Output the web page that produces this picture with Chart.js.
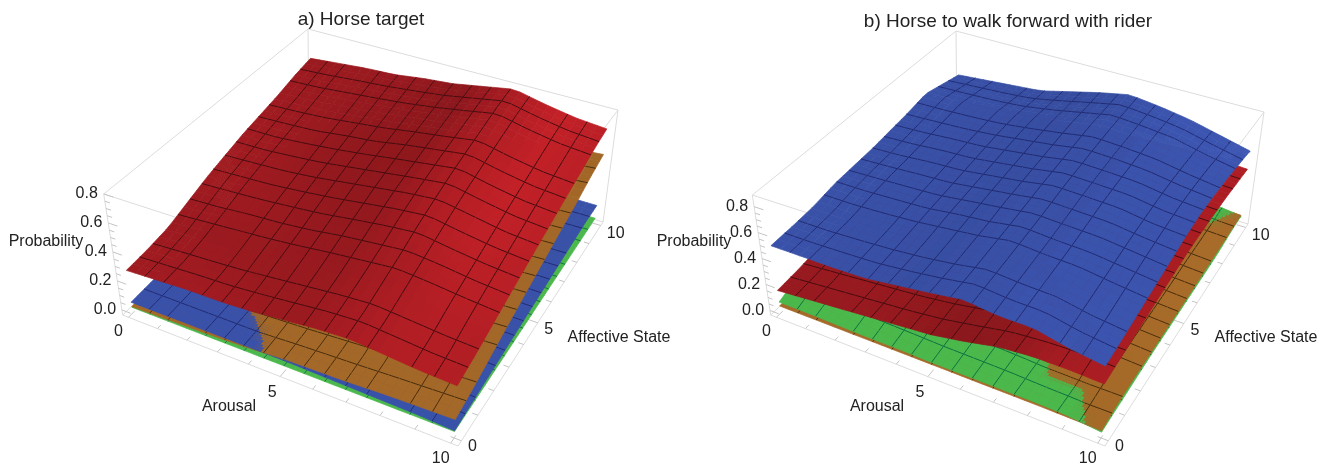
<!DOCTYPE html>
<html>
<head>
<meta charset="utf-8">
<title>Horse surfaces</title>
<style>
html, body { margin: 0; padding: 0; background: #fff; overflow: hidden; width: 1330px; height: 467px; }
canvas { position: absolute; top: 0; }
</style>
<script src="https://cdn.jsdelivr.net/npm/chart.js@4"></script>
</head>
<body>
<canvas id="panelA" width="722" height="467" style="left:0"></canvas>
<canvas id="panelB" width="736" height="467" style="left:640px"></canvas>
<script>
// z values: rows are Affective State 0..10, columns Arousal 0..10
const aRed = [
  [.26,.27,.28,.28,.29,.31,.33,.34,.32,.30,.29],
  [.27,.28,.29,.30,.32,.34,.36,.37,.35,.33,.32],
  [.29,.31,.32,.34,.36,.38,.40,.42,.40,.38,.36],
  [.34,.35,.37,.38,.40,.43,.45,.47,.45,.42,.40],
  [.39,.40,.41,.43,.45,.48,.51,.53,.49,.46,.44],
  [.43,.44,.45,.47,.50,.53,.56,.58,.54,.50,.48],
  [.47,.47,.49,.51,.54,.57,.60,.63,.58,.54,.52],
  [.50,.51,.52,.55,.57,.61,.64,.67,.62,.58,.56],
  [.53,.54,.56,.58,.61,.64,.67,.71,.66,.62,.60],
  [.57,.58,.60,.62,.64,.67,.71,.75,.70,.66,.64],
  [.60,.62,.64,.65,.68,.70,.74,.78,.73,.69,.67]
];
const aBrown = [
  [.01,.015,.02,.025,.035,.05,.055,.06,.07,.075,.08],
  [.015,.02,.03,.04,.05,.06,.07,.08,.09,.10,.11],
  [.02,.03,.04,.06,.07,.08,.10,.12,.13,.14,.15],
  [.03,.04,.06,.08,.10,.11,.13,.16,.17,.18,.19],
  [.04,.06,.08,.10,.12,.14,.17,.20,.21,.22,.23],
  [.05,.07,.10,.12,.15,.17,.20,.24,.25,.26,.27],
  [.06,.09,.12,.14,.17,.20,.24,.27,.29,.30,.31],
  [.07,.10,.13,.16,.19,.23,.27,.31,.33,.34,.35],
  [.08,.11,.15,.18,.22,.26,.30,.34,.36,.38,.39],
  [.09,.12,.16,.20,.25,.29,.33,.37,.40,.42,.44],
  [.10,.14,.18,.23,.28,.32,.36,.40,.43,.46,.48]
];
const aBlue = [
  [.04,.04,.04,.04,.04,.04,.035,.03,.025,.02,.01],
  [.045,.045,.045,.045,.045,.045,.04,.04,.035,.03,.02],
  [.05,.05,.05,.05,.05,.05,.05,.05,.045,.04,.03],
  [.05,.05,.05,.05,.055,.055,.055,.055,.05,.045,.04],
  [.05,.05,.05,.055,.06,.06,.06,.06,.055,.05,.05],
  [.05,.05,.055,.06,.065,.065,.065,.065,.06,.06,.06],
  [.05,.055,.06,.065,.07,.07,.07,.07,.07,.07,.07],
  [.05,.055,.06,.065,.07,.075,.075,.075,.075,.075,.08],
  [.05,.055,.06,.065,.07,.08,.08,.08,.08,.085,.09],
  [.05,.055,.06,.065,.07,.08,.085,.085,.09,.095,.10],
  [.05,.055,.06,.065,.07,.08,.09,.09,.095,.10,.10]
];
const aGreen = [
  [.005,.005,.005,.005,.005,.005,.005,.005,.005,.005,.005],
  [.005,.005,.005,.005,.005,.005,.005,.005,.005,.005,.005],
  [.005,.005,.005,.005,.005,.005,.005,.005,.005,.005,.005],
  [.005,.005,.005,.005,.005,.005,.005,.005,.005,.005,.005],
  [.005,.005,.005,.005,.005,.005,.005,.005,.005,.005,.005],
  [.005,.005,.005,.005,.005,.005,.005,.005,.005,.005,.005],
  [.005,.005,.005,.005,.005,.005,.005,.005,.005,.005,.005],
  [.005,.005,.005,.005,.005,.005,.005,.005,.005,.005,.005],
  [.005,.005,.005,.005,.005,.005,.005,.005,.005,.005,.005],
  [.005,.005,.005,.005,.005,.005,.005,.005,.005,.005,.005],
  [.005,.005,.005,.005,.005,.005,.005,.005,.005,.005,.005]
];
const bBlue = [
  [.485,.485,.485,.49,.52,.55,.585,.555,.555,.50,.465],
  [.49,.49,.50,.51,.53,.56,.60,.58,.57,.52,.49],
  [.50,.50,.51,.53,.55,.58,.62,.60,.59,.55,.52],
  [.53,.53,.54,.55,.58,.60,.64,.62,.61,.58,.55],
  [.54,.55,.56,.57,.60,.63,.66,.65,.64,.61,.58],
  [.55,.56,.58,.59,.62,.65,.69,.68,.67,.63,.61],
  [.57,.58,.60,.61,.64,.67,.71,.70,.69,.65,.63],
  [.59,.60,.61,.63,.66,.69,.73,.72,.70,.66,.63],
  [.62,.62,.63,.64,.67,.71,.75,.73,.71,.66,.62],
  [.58,.59,.60,.62,.66,.71,.76,.74,.71,.65,.60],
  [.54,.56,.58,.60,.66,.72,.77,.74,.70,.64,.58]
];
const bRed = [
  [.14,.16,.18,.20,.22,.24,.28,.33,.35,.35,.34],
  [.15,.17,.19,.21,.23,.26,.30,.34,.36,.37,.36],
  [.17,.19,.21,.23,.25,.28,.32,.36,.38,.39,.38],
  [.19,.21,.23,.25,.28,.31,.34,.38,.40,.41,.40],
  [.21,.23,.25,.27,.30,.33,.36,.40,.42,.43,.42],
  [.23,.25,.27,.30,.33,.36,.39,.42,.44,.45,.44],
  [.25,.27,.29,.32,.35,.38,.41,.43,.45,.46,.45],
  [.27,.29,.31,.34,.37,.40,.42,.44,.46,.46,.45],
  [.29,.31,.33,.35,.38,.41,.43,.45,.46,.46,.45],
  [.30,.32,.34,.36,.39,.41,.43,.44,.45,.45,.44],
  [.31,.33,.35,.37,.39,.41,.43,.44,.45,.44,.43]
];
const bGreen = [
  [.05,.05,.045,.04,.04,.035,.035,.035,.035,.03,.005],
  [.11,.10,.09,.08,.07,.06,.055,.05,.035,.03,.01],
  [.13,.12,.11,.10,.09,.08,.07,.05,.04,.03,.015],
  [.14,.13,.12,.11,.10,.09,.08,.06,.05,.035,.02],
  [.15,.14,.13,.12,.11,.10,.09,.06,.06,.04,.02],
  [.16,.15,.14,.13,.12,.11,.10,.065,.07,.05,.02],
  [.16,.15,.14,.13,.12,.11,.10,.065,.07,.05,.02],
  [.16,.15,.14,.13,.12,.11,.10,.065,.07,.05,.02],
  [.16,.15,.14,.13,.12,.11,.10,.065,.07,.055,.02],
  [.16,.15,.14,.13,.12,.11,.10,.09,.09,.065,.035],
  [.16,.15,.14,.13,.12,.11,.10,.09,.09,.075,.045]
];
const bBrown = [
  [.02,.02,.02,.02,.02,.02,.02,.02,.02,.018,.015],
  [.03,.03,.03,.03,.03,.03,.03,.03,.035,.03,.035],
  [.03,.03,.03,.035,.04,.04,.04,.05,.05,.05,.04],
  [.03,.03,.035,.04,.045,.05,.05,.06,.06,.055,.04],
  [.03,.03,.035,.04,.05,.05,.06,.065,.065,.055,.04],
  [.03,.03,.035,.04,.05,.05,.06,.07,.07,.055,.04],
  [.03,.03,.035,.04,.05,.05,.06,.07,.075,.055,.04],
  [.03,.03,.035,.04,.05,.05,.06,.07,.08,.06,.045],
  [.03,.03,.035,.04,.05,.05,.06,.07,.08,.06,.045],
  [.03,.03,.035,.04,.05,.05,.06,.07,.08,.06,.05],
  [.03,.03,.035,.04,.05,.05,.06,.07,.08,.06,.05]
];

const meshValues = [0.625, 1.25, 2.5, 3.125, 3.75, 4.375, 5, 5.625, 6.25, 6.875, 7.5, 8.75, 9.375];
const axisTicks = [0, 5, 10];
const probTicks = [0, 0.2, 0.4, 0.6, 0.8];

// surface looks
const looks = {
  red:   { rgb: [167, 28, 34],  mesh: '#470b0f', shade: 4.5 },
  blue:  { rgb: [57, 81, 168],  mesh: '#212b74', shade: 1 },
  green: { rgb: [75, 184, 76],  mesh: '#0c7340', shade: 0 },
  brown: { rgb: [165, 105, 40], mesh: '#4a2e0c', shade: 1 }
};

const panels = [
  {
    canvas: 'panelA', title: 'a) Horse target', left: 0, width: 722, titleTop: 8,
    zFloor: -0.035, zTop: 0.8,
    floor: [[122.7, 315], [458, 446], [603, 222], [309, 134]],
    top: [[103.7, 194], [466, 311], [618, 110], [308, 29]],
    surfaces: [['red', aRed], ['brown', aBrown], ['blue', aBlue], ['green', aGreen]],
    labels: [['Probability', 46, 242], ['Arousal', 229, 407], ['Affective State', 619, 338]]
  },
  {
    canvas: 'panelB', title: 'b) Horse to walk forward with rider', left: 640, width: 736, titleTop: 10,
    zFloor: -0.035, zTop: 0.89,
    floor: [[770.7, 315], [1105, 446], [1248, 224], [957, 136]],
    top: [[752.3, 195], [1113, 312], [1264, 112], [956, 31]],
    surfaces: [['blue', bBlue], ['red', bRed], ['green', bGreen], ['brown', bBrown]],
    labels: [['Probability', 694, 242], ['Arousal', 877, 407], ['Affective State', 1266, 338]]
  }
];

const FONT = '"Liberation Sans", Arial, sans-serif';
const TEXT = '#222';
const LO = -0.2, HI = 10.2;

function homography(q) {
  const [[x0, y0], [x1, y1], [x2, y2], [x3, y3]] = q;
  const dx1 = x1 - x2, dx2 = x3 - x2, dy1 = y1 - y2, dy2 = y3 - y2;
  const sx = x0 - x1 + x2 - x3, sy = y0 - y1 + y2 - y3;
  const det = dx1 * dy2 - dx2 * dy1;
  const g = (sx * dy2 - dx2 * sy) / det, h = (dx1 * sy - sx * dy1) / det;
  const a = x1 - x0 + g * x1, b = x3 - x0 + h * x3, d = y1 - y0 + g * y1, e = y3 - y0 + h * y3;
  return (u, v) => {
    const w = g * u + h * v + 1;
    return [(a * u + b * v + x0) / w, (d * u + e * v + y0) / w];
  };
}

function makeProjector(p) {
  const hf = homography(p.floor), ht = homography(p.top);
  return (a, s, z) => {
    const u = (a - LO) / (HI - LO), v = (s - LO) / (HI - LO), t = (z - p.zFloor) / (p.zTop - p.zFloor);
    const f = hf(u, v), c = ht(u, v);
    return { x: f[0] + (c[0] - f[0]) * t, y: f[1] + (c[1] - f[1]) * t };
  };
}

// value on the grid between the read points
function zAt(grid, a, s) {
  const i = Math.min(9, Math.floor(a)), j = Math.min(9, Math.floor(s));
  const fa = a - i, fs = s - j;
  return (grid[j][i] * (1 - fa) + grid[j][i + 1] * fa) * (1 - fs) +
         (grid[j + 1][i] * (1 - fa) + grid[j + 1][i + 1] * fa) * fs;
}

function onMesh(v) {
  return meshValues.some(m => Math.abs(m - v) < 1e-6);
}

function cellColor(look, grid, a, s) {
  const hi = Math.min(10, a + 1.5), lo = Math.max(0, a - 1.5);
  const slope = (zAt(grid, hi, s) - zAt(grid, lo, s)) / (hi - lo);
  const f = Math.max(0.8, Math.min(1.2, 1 - look.shade * slope));
  const c = look.rgb.map(v => Math.min(255, Math.round(v * f)));
  return 'rgb(' + c.join(',') + ')';
}

function meshDataset(points, color) {
  return { data: points, showLine: true, fill: false, pointRadius: 0, borderWidth: 1, borderColor: color };
}

// fill of one cell, then the mesh lines on its far sides
function cellDatasets(project, look, grid, a0, a1, s0, s1) {
  const at = (a, s) => project(a, s, zAt(grid, a, s));
  const color = cellColor(look, grid, (a0 + a1) / 2, (s0 + s1) / 2);
  const out = [{
    data: [at(a0, s0), at(a1, s0), at(a1, s1), at(a0, s1), at(a0, s0)],
    showLine: true, fill: 'shape', pointRadius: 0, borderWidth: 0.7,
    backgroundColor: color, borderColor: color
  }];
  if (onMesh(s1)) out.push(meshDataset([at(a1, s1), at(a0, s1)], look.mesh));
  if (onMesh(a0)) out.push(meshDataset([at(a0, s1), at(a0, s0)], look.mesh));
  return out;
}

function buildCells(p, project) {
  const cells = [];
  const N = 32, step = 10 / N;
  const orderAt = (a, s) => p.surfaces.map((e, k) => [zAt(e[1], a, s), k]).sort((m, n) => m[0] - n[0]).map(m => m[1]).join();
  const pushPos = (a0, a1, s0, s1) => {
    const ac = (a0 + a1) / 2, sc = (s0 + s1) / 2;
    const sorted = p.surfaces.slice().sort((m, n) => zAt(m[1], ac, sc) - zAt(n[1], ac, sc));
    sorted.forEach((e, layer) => {
      cells.push({
        key: sc - ac, layer,
        ds: cellDatasets(project, looks[e[0]], e[1], a0, a1, s0, s1)
      });
    });
  };
  for (let i = 0; i < N; i++) {
    for (let j = 0; j < N; j++) {
      const a0 = i * step, a1 = a0 + step, s0 = j * step, s1 = s0 + step;
      const o = orderAt(a0, s0);
      const crossing = [[a1, s0], [a1, s1], [a0, s1]].some(c => orderAt(c[0], c[1]) !== o);
      if (crossing) {
        const sub = step / 4;
        for (let m = 0; m < 4; m++) for (let n = 0; n < 4; n++) {
          pushPos(a0 + m * sub, a0 + (m + 1) * sub, s0 + n * sub, s0 + (n + 1) * sub);
        }
      } else {
        pushPos(a0, a1, s0, s1);
      }
    }
  }
  cells.sort((m, n) => (n.key - m.key) || (m.layer - n.layer));
  return cells.flatMap(c => c.ds);
}

function lineDataset(points, color) {
  return { data: points, showLine: true, fill: false, pointRadius: 0, borderWidth: 1, borderColor: color };
}

function buildFrame(p, project) {
  const out = [], col = '#dcdcdc', tickCol = '#c4c4c4';
  const zf = p.zFloor, zt = p.zTop;
  const edge = (a, b, c, d, e, f) => out.push(lineDataset([project(a, b, c), project(d, e, f)], col));
  [zf, zt].forEach(z => {
    edge(LO, LO, z, HI, LO, z); edge(HI, LO, z, HI, HI, z);
    edge(HI, HI, z, LO, HI, z); edge(LO, HI, z, LO, LO, z);
  });
  edge(LO, LO, zf, LO, LO, zt); edge(HI, HI, zf, HI, HI, zt); edge(LO, HI, zf, LO, HI, zt);
  for (let k = 0; k <= 10; k++) {
    const len = k % 5 === 0 ? 0.3 : 0.16;
    out.push(lineDataset([project(k, LO, zf), project(k, LO + len, zf)], tickCol));
    out.push(lineDataset([project(HI, k, zf), project(HI - len, k, zf)], tickCol));
  }
  for (let k = 0; k <= 16; k++) {
    const z = k * 0.05;
    const len = k % 4 === 0 ? 0.3 : 0.16;
    out.push(lineDataset([project(LO, LO, z), project(LO + len, LO, z)], tickCol));
  }
  return out;
}

const labelPlugin = {
  id: 'plotLabels',
  afterDatasetsDraw(chart, args, opts) {
    const { ctx, scales: { x, y } } = chart;
    ctx.save();
    ctx.font = '16px ' + FONT;
    ctx.fillStyle = TEXT;
    ctx.textAlign = 'center';
    ctx.textBaseline = 'middle';
    opts.items.forEach(t => ctx.fillText(t[0], x.getPixelForValue(t[1]), y.getPixelForValue(t[2])));
    ctx.restore();
  }
};

panels.forEach(p => {
  const project = makeProjector(p);
  const items = p.labels.slice();
  axisTicks.forEach(k => {
    const fa = project(k, LO, p.zFloor);
    const off = k === 0 ? [-10, 14] : k === 5 ? [-8, 16] : [-10, 15];
    items.push([String(k), fa.x + off[0], fa.y + off[1]]);
    const fs = project(HI, k, p.zFloor);
    const offS = k === 0 ? [11, 6] : k === 5 ? [11, 7] : [15, 8];
    items.push([String(k), fs.x + offS[0], fs.y + offS[1]]);
  });
  probTicks.forEach(z => {
    const f = project(LO, LO, z);
    items.push([z.toFixed(1), f.x - 17, f.y]);
  });

  // Chart.js paints the last dataset first, so reverse the painter's order
  const datasets = buildFrame(p, project).concat(buildCells(p, project)).reverse();
  const titleH = p.titleTop + 19 * 1.2;

  new Chart(document.getElementById(p.canvas), {
    type: 'scatter',
    data: { datasets },
    plugins: [labelPlugin],
    options: {
      responsive: false,
      animation: false,
      events: [],
      parsing: false,
      normalized: true,
      clip: false,
      layout: { padding: 0 },
      scales: {
        x: { type: 'linear', display: false, min: p.left, max: p.left + p.width },
        y: { type: 'linear', display: false, reverse: true, min: titleH, max: 467 }
      },
      plugins: {
        legend: { display: false },
        tooltip: { enabled: false },
        title: {
          display: true, text: p.title, color: TEXT,
          padding: { top: p.titleTop, bottom: 0 },
          font: { family: FONT, size: 19, weight: 'normal' }
        },
        plotLabels: { items }
      }
    }
  });
});
</script>
</body>
</html>
